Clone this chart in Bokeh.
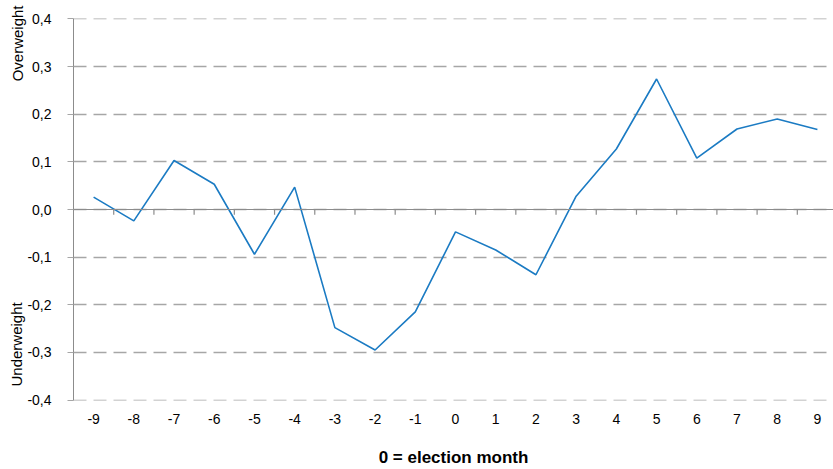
import numpy as np
from bokeh.plotting import figure
from bokeh.models import Range1d, FixedTicker, CustomJSTickFormatter, Span, Title
from bokeh.embed import file_html
from bokeh.resources import INLINE

months = [-9, -8, -7, -6, -5, -4, -3, -2, -1, 0, 1, 2, 3, 4, 5, 6, 7, 8, 9]
weights = [0.026, -0.024, 0.103, 0.053, -0.094, 0.047, -0.248, -0.295, -0.215, -0.047,
           -0.085, -0.137, 0.028, 0.127, 0.274, 0.108, 0.169, 0.190, 0.168]
y_ticks = [-0.4, -0.3, -0.2, -0.1, 0.0, 0.1, 0.2, 0.3, 0.4]
x_title = "0 = election month"
upper_label = "Overweight"
lower_label = "Underweight"

FONT = "Liberation Sans"
GRID = "#a6a6a6"
AXIS = "#8c8c8c"

p = figure(width=833, height=469, output_backend="svg", toolbar_location=None,
           x_range=Range1d(-9.5, 9.4), y_range=Range1d(-0.401, 0.401),
           min_border_left=73, min_border_right=0, min_border_top=18, min_border_bottom=67)
p.outline_line_color = None
p.background_fill_color = "white"

# grid
p.xgrid.grid_line_color = None
p.ygrid.ticker = FixedTicker(ticks=y_ticks)
p.ygrid.grid_line_color = GRID
p.ygrid.grid_line_width = 1.3
p.ygrid.grid_line_dash = "13 7"

# y axis
ya = p.yaxis[0]
ya.ticker = FixedTicker(ticks=y_ticks)
ya.formatter = CustomJSTickFormatter(code="return tick.toFixed(1).replace('.', ',');")
ya.axis_line_color = AXIS
ya.major_tick_line_color = GRID
ya.major_tick_out = 6
ya.major_tick_in = 0
ya.minor_tick_line_color = None
ya.major_label_text_font = FONT
ya.major_label_text_font_size = "14px"
ya.major_label_text_color = "black"
ya.major_label_standoff = 16

# side labels as left titles
p.add_layout(Title(text=lower_label, align="left", offset=14, standoff=0,
                   text_font=FONT, text_font_size="15px", text_font_style="normal",
                   text_color="black"), "left")
p.add_layout(Title(text=upper_label, align="right", offset=-13, standoff=-41,
                   text_font=FONT, text_font_size="15px", text_font_style="normal",
                   text_color="black"), "left")

# x axis
xa = p.xaxis[0]
xa.ticker = FixedTicker(ticks=months)
xa.formatter = CustomJSTickFormatter(code="return tick.toFixed(0);")
xa.axis_line_color = None
xa.major_tick_line_color = None
xa.minor_tick_line_color = None
xa.major_label_text_font = FONT
xa.major_label_text_font_size = "14px"
xa.major_label_text_color = "black"
xa.major_label_standoff = 7
xa.axis_label = x_title
xa.axis_label_text_font = FONT
xa.axis_label_text_font_size = "17px"
xa.axis_label_text_font_style = "bold"
xa.axis_label_text_color = "black"
xa.axis_label_standoff = 21

# zero line with category ticks
p.add_layout(Span(location=0, dimension="width", line_color=AXIS, line_width=1.2))
bounds = [m + 0.5 for m in months[:-1]]
p.segment(x0=bounds, y0=[0] * len(bounds), x1=bounds, y1=[-0.011] * len(bounds),
          line_color=AXIS, line_width=1.2)

# data line
p.line(months, weights, line_color="#1b7bc3", line_width=1.6)

open("out.html", "w").write(file_html(p, INLINE))
